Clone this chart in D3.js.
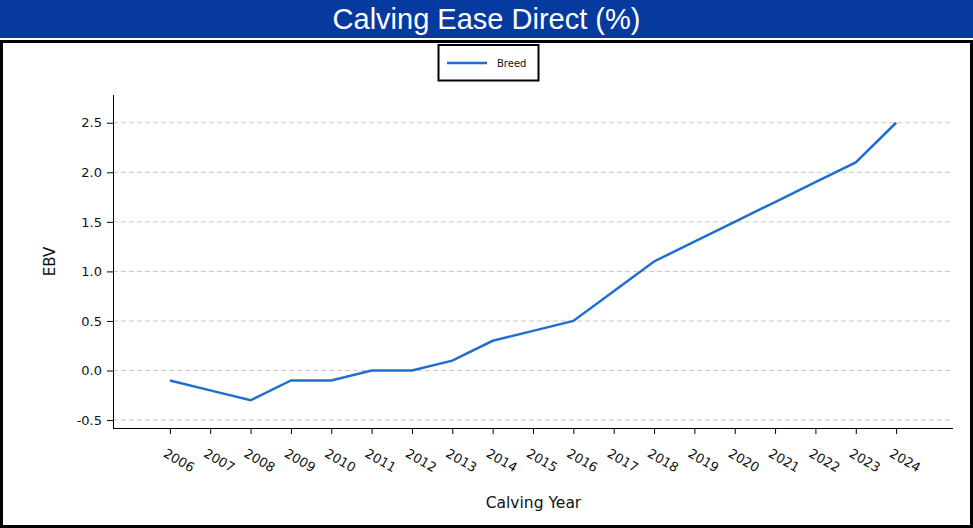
<!DOCTYPE html>
<html>
<head>
<meta charset="utf-8">
<script src="https://cdn.jsdelivr.net/npm/d3@7"></script>
<style>
  body { margin: 0; background: #fff; }
  svg { display: block; }
</style>
</head>
<body>
<div id="chart"></div>
<script>
// chart values
const years = [2006, 2007, 2008, 2009, 2010, 2011, 2012, 2013, 2014, 2015,
               2016, 2017, 2018, 2019, 2020, 2021, 2022, 2023, 2024]
const breed = [-0.1, -0.2, -0.3, -0.1, -0.1, 0.0, 0.0, 0.1, 0.3, 0.4,
               0.5, 0.8, 1.1, 1.3, 1.5, 1.7, 1.9, 2.1, 2.5]
const yTicks = [-0.5, 0.0, 0.5, 1.0, 1.5, 2.0, 2.5]
const seriesName = 'Breed'
const titleText = 'Calving Ease Direct (%)'

const W = 973, H = 528
const plot = {left: 113, right: 953, top: 95, bottom: 428}
const lineColor = '#1f6fcf'
const font = 'DejaVu Sans, sans-serif'

var svg = d3.select('#chart').append('svg')
  .attr('width', W).attr('height', H)

// title banner
svg.append('rect').attr('x', 0).attr('y', 0).attr('width', W).attr('height', 38)
  .attr('fill', '#063a9f')
svg.append('text').attr('x', W / 2).attr('y', 29)
  .attr('text-anchor', 'middle')
  .attr('font-family', 'Liberation Sans, Arial, sans-serif')
  .attr('font-size', 29).attr('fill', '#fff')
  .text(titleText)

// frame below banner
svg.append('rect').attr('x', 1.5).attr('y', 41.5)
  .attr('width', W - 3).attr('height', H - 43)
  .attr('fill', 'none').attr('stroke', '#000').attr('stroke-width', 3)

var x = d3.scaleLinear().domain([2004.59, 2025.41]).range([plot.left, plot.right])
var y = d3.scaleLinear().domain([-0.58, 2.78]).range([plot.bottom, plot.top])

// grid lines
svg.append('g').selectAll('line').data(yTicks).enter().append('line')
  .attr('x1', plot.left).attr('x2', plot.right)
  .attr('y1', d => y(d)).attr('y2', d => y(d))
  .attr('stroke', '#c8c8c8').attr('stroke-width', 1)
  .attr('stroke-dasharray', '5,3')

// y axis
var yAxis = svg.append('g')
  .attr('transform', 'translate(' + plot.left + ',0)')
  .call(d3.axisLeft(y).tickValues(yTicks).tickFormat(d => d.toFixed(1)).tickSize(6).tickPadding(5))
yAxis.select('.domain').attr('d', 'M0.5,' + plot.top + 'V' + (plot.bottom + 0.5))
  .attr('stroke', '#000')
yAxis.selectAll('text')
  .attr('font-family', font).attr('font-size', 13).attr('fill', '#111')

// x axis
var xAxis = svg.append('g')
  .attr('transform', 'translate(0,' + plot.bottom + ')')
  .call(d3.axisBottom(x).tickValues(years).tickFormat(d3.format('d')).tickSize(6))
xAxis.select('.domain').attr('d', 'M' + plot.left + ',0.5H' + plot.right)
  .attr('stroke', '#000')
xAxis.selectAll('text')
  .attr('font-family', font).attr('font-size', 13).attr('fill', '#111')
  .attr('text-anchor', 'start').attr('dy', null)
  .attr('y', 0)
  .attr('transform', 'translate(-8,28) rotate(30)')

// axis titles
svg.append('text')
  .attr('transform', 'translate(55,' + ((plot.top + plot.bottom) / 2) + ') rotate(-90)')
  .attr('text-anchor', 'middle')
  .attr('font-family', font).attr('font-size', 15).attr('fill', '#111')
  .text('EBV')
svg.append('text').attr('x', 533.5).attr('y', 508)
  .attr('text-anchor', 'middle')
  .attr('font-family', font).attr('font-size', 15.5).attr('fill', '#111')
  .text('Calving Year')

// series line
var line = d3.line().x((d, i) => x(years[i])).y(d => y(d))
svg.append('path').datum(breed)
  .attr('d', line)
  .attr('fill', 'none').attr('stroke', lineColor).attr('stroke-width', 2.5)

// legend
var lg = svg.append('g')
lg.append('rect').attr('x', 438.5).attr('y', 45).attr('width', 100).attr('height', 35.5)
  .attr('fill', '#fff').attr('stroke', '#000').attr('stroke-width', 2)
lg.append('line').attr('x1', 447).attr('x2', 487).attr('y1', 63).attr('y2', 63)
  .attr('stroke', lineColor).attr('stroke-width', 2.5)
lg.append('text').attr('x', 497).attr('y', 67)
  .attr('font-family', font).attr('font-size', 10).attr('fill', '#111')
  .text(seriesName)
</script>
</body>
</html>
